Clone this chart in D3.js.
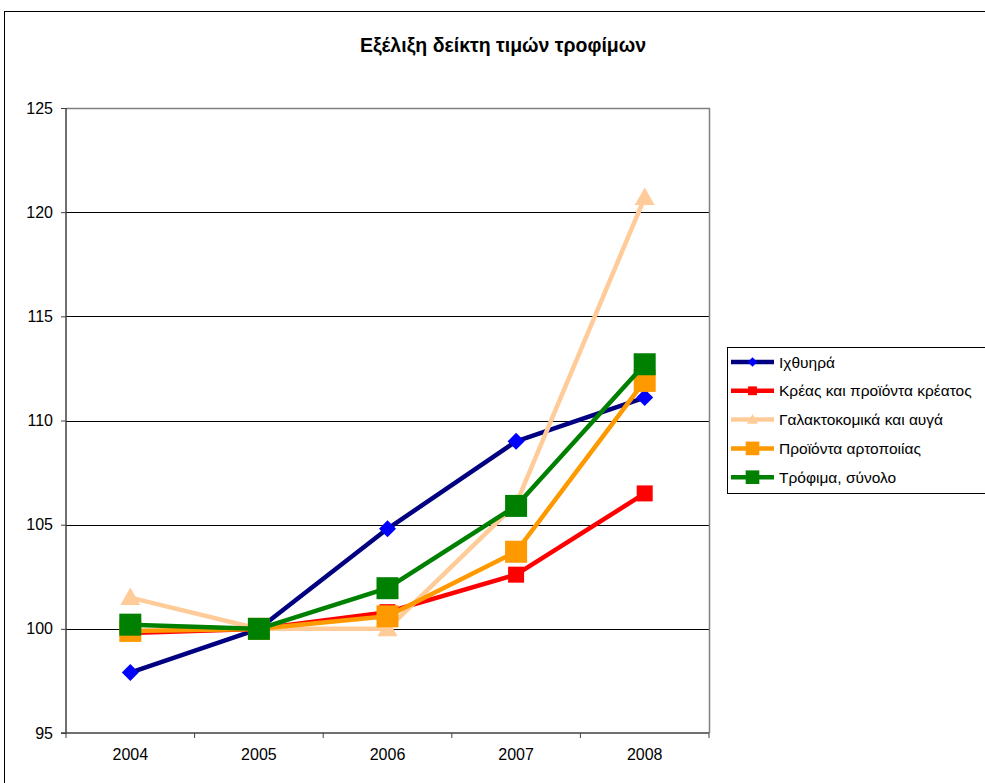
<!DOCTYPE html>
<html><head><meta charset="utf-8">
<script src="https://cdn.jsdelivr.net/npm/d3@7"></script>
<style>body{margin:0;background:#fff}svg{display:block;font-family:"Liberation Sans",Arial,sans-serif}</style>
</head><body><svg id="c" width="985" height="783"></svg>
<script>
const years = ["2004","2005","2006","2007","2008"];
const seriesNames = ["Ιχθυηρά","Κρέας και προϊόντα κρέατος","Γαλακτοκομικά και αυγά","Προϊόντα αρτοποιίας","Τρόφιμα, σύνολο"];
const fish  = [97.9, 100, 104.8, 109.0, 111.1];
const meat  = [99.8, 100, 100.8, 102.6, 106.5];
const dairy = [101.5, 100, 100.0, 106.0, 120.7];
const bread = [99.9, 100, 100.6, 103.7, 111.9];
const total = [100.2, 100, 101.95, 105.9, 112.7];
const yTicks = [95,100,105,110,115,120,125];

const styles = [
  {line:"#000080", fill:"#0000FF", shape:"diamond", size:17},
  {line:"#FF0000", fill:"#FF0000", shape:"square", size:16},
  {line:"#FFCC99", fill:"#FFCC99", shape:"triangle", size:20},
  {line:"#FF9900", fill:"#FF9900", shape:"square", size:22},
  {line:"#008000", fill:"#008000", shape:"square", size:22}
];
const data = [fish, meat, dairy, bread, total];

const svg = d3.select("#c");
svg.append("rect").attr("x",4.5).attr("y",11.5).attr("width",1000).attr("height",800)
  .attr("fill","#fff").attr("stroke","#000").attr("stroke-width",1);

const L=66, R=709, T=108, B=733;
const x = d3.scaleBand().domain(years).range([L,R]);
const y = d3.scaleLinear().domain([95,125]).range([B,T]);

svg.append("text").attr("x",503).attr("y",52).attr("text-anchor","middle")
  .attr("font-size",19.5).attr("font-weight","bold").text("Εξέλιξη δείκτη τιμών τροφίμων");

// gridlines
svg.append("g").selectAll("line").data(yTicks.filter(d=>d>95 && d<125)).join("line")
  .attr("x1",L).attr("x2",R).attr("y1",d=>Math.round(y(d))+0.5).attr("y2",d=>Math.round(y(d))+0.5)
  .attr("stroke","#000").attr("stroke-width",1);
// plot border top/right
svg.append("path").attr("d",`M${L},${T+0.5}H${R+0.5}V${B}`).attr("fill","none").attr("stroke","#808080").attr("stroke-width",1.5);

// axes
const yAxis = d3.axisLeft(y).tickValues(yTicks).tickSize(5).tickPadding(8).tickFormat(d3.format("d"));
const gy = svg.append("g").attr("transform",`translate(${L},0)`).call(yAxis);
gy.selectAll("text").attr("font-size",16).attr("font-family","Liberation Sans, Arial, sans-serif").attr("fill","#000");
gy.selectAll("line").attr("stroke","#404040");
gy.select(".domain").attr("stroke","#404040").attr("stroke-width",1.5).attr("d",`M0,${T}V${B}`);

const xAxis = d3.axisBottom(x).tickSize(0).tickPadding(16);
const gx = svg.append("g").attr("transform",`translate(0,${B})`).call(xAxis);
gx.selectAll("text").attr("font-size",16).attr("font-family","Liberation Sans, Arial, sans-serif").attr("fill","#000");
gx.select(".domain").attr("stroke","#404040").attr("stroke-width",1.5).attr("d",`M${L-5},0H${R}`);
// x ticks between categories
const bounds = years.map(d=>x(d)).concat([R]);
gx.append("g").selectAll("line").data(bounds).join("line")
  .attr("x1",d=>d).attr("x2",d=>d).attr("y1",0).attr("y2",5).attr("stroke","#404040").attr("stroke-width",1);

const cx = d=>x(d)+x.bandwidth()/2;
function marker(g, st, px, py, scale){
  const s = st.size*scale, h=s/2;
  if(st.shape==="square") g.append("rect").attr("x",px-h).attr("y",py-h).attr("width",s).attr("height",s).attr("fill",st.fill);
  else if(st.shape==="diamond") g.append("path").attr("d",`M${px},${py-h}L${px+h},${py}L${px},${py+h}L${px-h},${py}Z`).attr("fill",st.fill);
  else g.append("path").attr("d",`M${px},${py-h}L${px+h},${py+h*0.75}L${px-h},${py+h*0.75}Z`).attr("fill",st.fill);
}
const line = d3.line().x((d,i)=>cx(years[i])).y(d=>y(d));
data.forEach((vals,si)=>{
  const st = styles[si];
  const g = svg.append("g");
  g.append("path").datum(vals).attr("d",line).attr("fill","none").attr("stroke",st.line).attr("stroke-width",4.5).attr("stroke-linejoin","round");
  vals.forEach((v,i)=>marker(g, st, cx(years[i]), y(v), 1));
});

// legend
const lg = svg.append("g");
lg.append("rect").attr("x",727.5).attr("y",347.5).attr("width",300).attr("height",146).attr("fill","#fff").attr("stroke","#000").attr("stroke-width",1);
seriesNames.forEach((n,i)=>{
  const ly = 362 + i*28.8;
  const st = styles[i];
  lg.append("line").attr("x1",731).attr("x2",774).attr("y1",ly).attr("y2",ly).attr("stroke",st.line).attr("stroke-width",4.5);
  marker(lg, st, 752.5, ly, i<3 ? 0.55 : 0.62);
  lg.append("text").attr("x",779).attr("y",ly+5.5).attr("font-size",15.5).text(n);
});
</script></body></html>
